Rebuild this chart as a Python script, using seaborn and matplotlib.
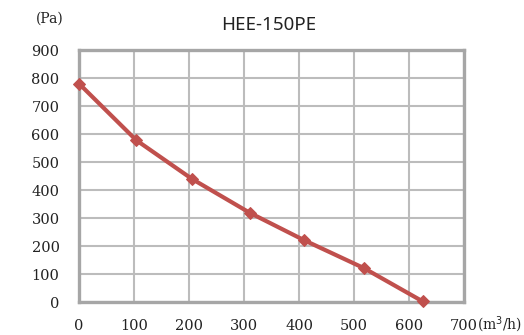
import matplotlib
matplotlib.use("Agg")
import matplotlib.pyplot as plt
import seaborn as sns
import pandas as pd

airflow = [0, 104, 205, 311, 409, 518, 625]
pressure = [780, 578, 440, 318, 221, 121, 2]
x_ticks = [0, 100, 200, 300, 400, 500, 600, 700]
y_ticks = [0, 100, 200, 300, 400, 500, 600, 700, 800, 900]

df = pd.DataFrame({"airflow": airflow, "pressure": pressure})

sns.set_style("white")
fig = plt.figure(figsize=(5.24, 3.35), dpi=100)
ax = fig.add_axes([0.1508, 0.0985, 0.7347, 0.7522])

sns.lineplot(data=df, x="airflow", y="pressure", ax=ax, color="#c0504d",
             linewidth=3, marker="D", markersize=6.5, markeredgecolor="#c0504d",
             clip_on=False, zorder=5)

ax.set_xlim(0, 700)
ax.set_ylim(0, 900)
ax.set_xticks(x_ticks)
ax.set_yticks(y_ticks)
ax.grid(True, color="#bcbcbc", linewidth=1.5)
ax.set_axisbelow(True)
for s in ax.spines.values():
    s.set_color("#a6a6a6")
    s.set_linewidth(2.4)
ax.set_xlabel("")
ax.set_ylabel("")
serif = "DejaVu Serif"
ax.set_xticklabels([str(v) for v in x_ticks], fontfamily=serif, fontsize=10.5)
ax.set_yticklabels([str(v) for v in y_ticks], fontfamily=serif, fontsize=10.5)
ax.tick_params(axis="x", length=0, pad=12, colors="#222222")
ax.tick_params(axis="y", length=0, pad=14, colors="#222222")

fig.text(50/524, 1-19/335, "(Pa)", fontfamily=serif, fontsize=10,
         ha="center", va="center", color="#222222")
fig.text(477/524, 1-325/335, "(m$^3$/h)", fontfamily=serif, fontsize=10,
         ha="left", va="center", color="#222222")
fig.text(269/524, 1-25/335, "HEE-150PE", fontfamily="Noto Sans", fontsize=13.5,
         ha="center", va="center", color="#222222")

fig.savefig("out.png", dpi=100, facecolor="white")
